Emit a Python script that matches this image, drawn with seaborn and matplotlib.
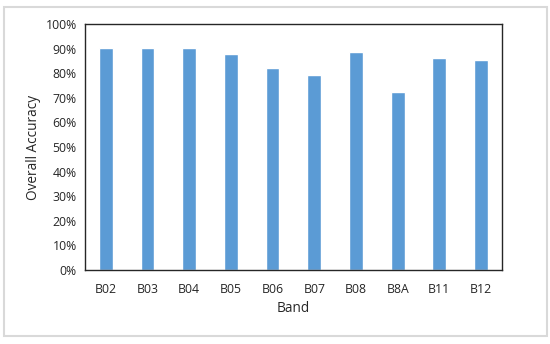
import matplotlib
matplotlib.use("Agg")
import matplotlib.pyplot as plt
import seaborn as sns
import pandas as pd
from matplotlib.patches import Rectangle
from matplotlib.ticker import PercentFormatter

bands = ["B02", "B03", "B04", "B05", "B06", "B07", "B08", "B8A", "B11", "B12"]
accuracy = [90.4, 90.4, 90.1, 87.8, 82.2, 79.5, 88.5, 72.4, 86.3, 85.2]

df = pd.DataFrame({"Band": bands, "Overall Accuracy": accuracy})

sns.set_style("white")
plt.rcParams["font.family"] = ["Open Sans", "DejaVu Sans"]

fig = plt.figure(figsize=(5.5, 3.44), dpi=100)
ax = fig.add_axes([0.1545, 0.215, 0.758, 0.715])

sns.barplot(data=df, x="Band", y="Overall Accuracy", color="#5B9BD5",
            saturation=1, width=0.33, ax=ax, zorder=2)

ax.set_ylim(0, 100)
ax.set_yticks(range(0, 101, 10))
ax.yaxis.set_major_formatter(PercentFormatter(decimals=0))
ax.set_xlim(-0.5, len(bands) - 0.5)

for s in ax.spines.values():
    s.set_color("#262626")
    s.set_linewidth(1.0)

ax.tick_params(axis="x", direction="in", length=3, width=1, color="#262626",
               labelsize=8.8, labelcolor="#262626", pad=9)
ax.tick_params(axis="y", length=0, labelsize=8.8, labelcolor="#262626", pad=6)
ax.set_xlabel("Band", fontsize=9.8, color="#262626", labelpad=4)
ax.set_ylabel("Overall Accuracy", fontsize=9.8, color="#262626", labelpad=3)

fig.patches.append(Rectangle((4 / 550, 8 / 344), 543 / 550, 329 / 344,
                             transform=fig.transFigure, fill=False,
                             edgecolor="#d9d9d9", linewidth=1.5))

fig.savefig("out.png", dpi=100)
